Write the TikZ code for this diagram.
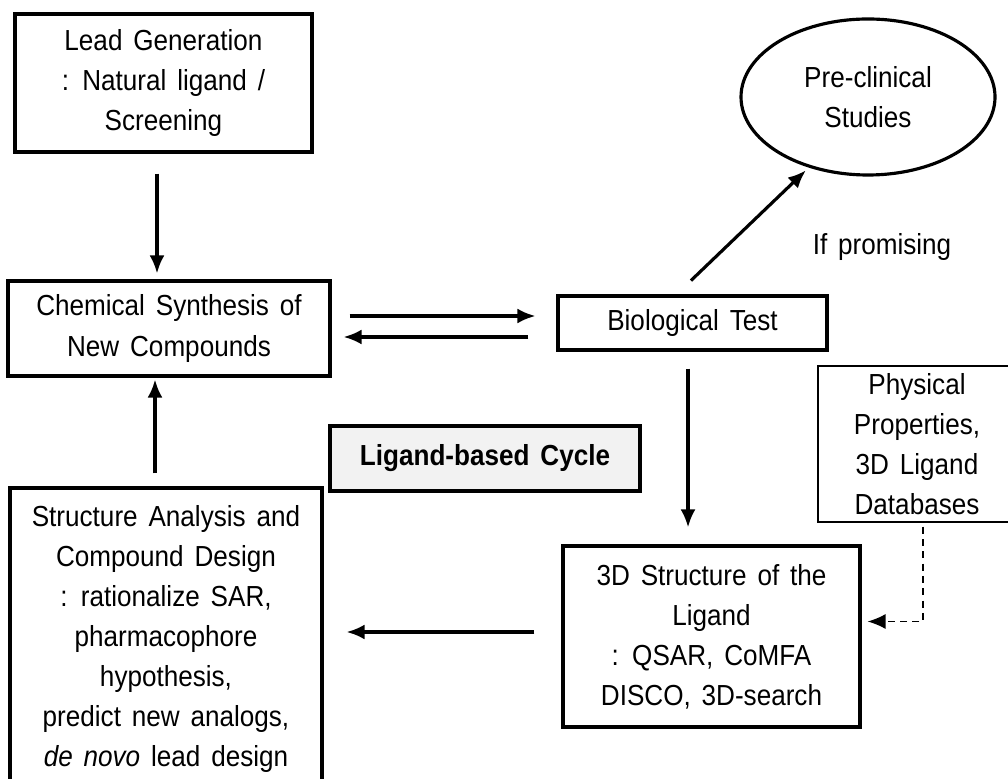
\documentclass[tikz,border=0pt]{standalone}
\usepackage{fontspec}
\setmainfont{Liberation Sans}[FakeStretch=0.9,WordSpace=1.5]
\usepackage{tikz}
\usetikzlibrary{arrows.meta,positioning,calc,shapes.geometric}

\begin{document}
\begin{tikzpicture}[>={Latex[length=3.6mm,width=3mm]},
    every node/.style={font=\fontsize{16.5}{22.8}\selectfont},
    stage/.style={draw, line width=1.8pt, align=center, inner sep=0pt},
    note/.style={draw, line width=0.8pt, align=center, inner sep=0pt},
    flow/.style={->, line width=1.8pt}]
    % Page frame
    \clip (0,0) rectangle (20.16,15.56);

    % Left column
    \node[stage, minimum width=5.94cm, minimum height=2.76cm] (lead) at (3.27,13.90)
        {Lead Generation\\: Natural ligand /\\Screening};
    \node[stage, minimum width=6.44cm, minimum height=1.90cm] (chem) at (3.38,8.99)
        {Chemical Synthesis of\\New Compounds};
    \node[stage, minimum width=6.24cm, minimum height=6.04cm] (struct) at (3.32,2.78)
        {Structure Analysis and\\Compound Design\\: rationalize SAR,\\pharmacophore\\hypothesis,\\predict new analogs,\\\textit{de novo} lead design};

    % Right column
    \node[stage, minimum width=5.38cm, minimum height=1.08cm] (bio) at (13.85,9.10)
        {Biological Test};
    \node[ellipse, draw, line width=1.8pt, align=center, inner sep=0pt,
          minimum width=5.08cm, minimum height=3.12cm] (pre) at (17.36,13.62)
        {Pre-clinical\\Studies};
    \node (promise) at (17.64,10.62) {If promising};
    \node[stage, minimum width=5.94cm, minimum height=3.62cm] (td) at (14.23,2.83)
        {3D Structure of the\\Ligand\\: QSAR, CoMFA\\DISCO, 3D-search};
    \node[note, minimum width=3.96cm, minimum height=3.12cm] (phys) at (18.34,6.68)
        {Physical\\Properties,\\3D Ligand\\Databases};

    % Cycle label
    \node[stage, fill=black!5, minimum width=6.20cm, minimum height=1.30cm] (cycle) at (9.70,6.39)
        {\textbf{Ligand-based Cycle}};

    % Connectors
    \draw[flow, shorten <=0.4cm, shorten >=0.12cm] ([xshift=-0.13cm]lead.south) -- ([xshift=-0.13cm]lead.south |- chem.north);
    \draw[flow, shorten <=0.26cm, shorten >=0.04cm] ([xshift=-0.22cm]struct.north) -- ([xshift=-0.22cm]struct.north |- chem.south);
    \draw[flow, shorten <=0.36cm, shorten >=0.42cm] ([yshift=0.25cm]chem.east) -- ([yshift=0.25cm]chem.east -| bio.west);
    \draw[flow, shorten <=0.56cm, shorten >=0.24cm] ([yshift=-0.17cm]chem.east -| bio.west) -- ([yshift=-0.17cm]chem.east);
    \draw[flow, shorten <=0.4cm, shorten >=0.08cm] ([xshift=-0.32cm]bio.north) -- (pre.230);
    \draw[flow, shorten <=0.34cm, shorten >=0.34cm] ([xshift=-0.09cm]bio.south) -- ([xshift=-0.09cm]bio.south |- td.north);
    \draw[flow, shorten <=0.54cm, shorten >=0.46cm] ([yshift=0.09cm]td.west) -- ([yshift=0.09cm]td.west -| struct.east);
    \draw[->, line width=0.9pt, dash pattern=on 4pt off 3pt, shorten <=0.08cm, shorten >=0.12cm] ([xshift=0.12cm]phys.south) |- ([yshift=0.30cm]td.east);
\end{tikzpicture}
\end{document}
